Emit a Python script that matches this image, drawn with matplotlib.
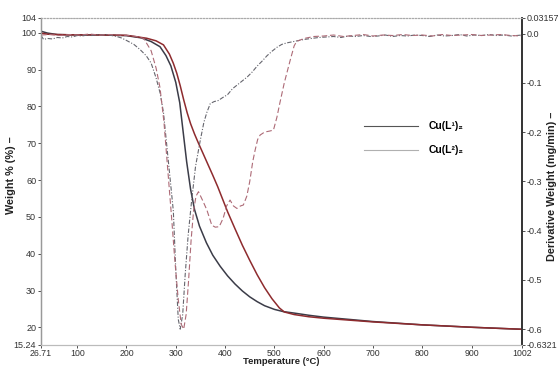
import matplotlib
matplotlib.use("Agg")
import matplotlib.pyplot as plt
from matplotlib.lines import Line2D

plt.rcParams['font.family'] = ['Liberation Sans', 'DejaVu Sans']
plt.rcParams['axes.unicode_minus'] = False

# ---------------- data ----------------
# TGA, Cu(L1)2 (dark solid)
t_l1 = [26.71, 40, 60, 100, 150, 200, 230, 250, 268, 280, 290, 300, 308, 315, 322, 330,
        338, 348, 362, 375, 390, 405, 420, 435, 450, 465, 480, 500, 518, 540, 570, 600, 650,
        700, 800, 900, 1002]
w_l1 = [100.4, 99.9, 99.5, 99.4, 99.4, 99.2, 98.6, 97.6, 96.2, 93.8, 91.0, 86.5, 81.0, 73.0, 65.0, 57.5,
        52.0, 47.5, 43.0, 39.6, 36.6, 34.0, 31.8, 29.9, 28.3, 27.0, 25.9, 24.9, 24.3, 23.9, 23.3, 22.8, 22.2,
        21.6, 20.7, 20.05, 19.5]

# TGA, Cu(L2)2 (red solid)
t_l2 = [26.71, 40, 60, 100, 150, 200, 241, 260, 275, 287, 295, 302, 309, 316, 323, 330, 338,
        346, 355, 365, 375, 385, 395, 405, 420, 435, 450, 465, 480, 495, 510, 520, 540, 570, 600,
        650, 700, 800, 900, 1002]
w_l2 = [99.9, 99.6, 99.5, 99.4, 99.4, 99.3, 98.5, 97.8, 96.7, 94.2, 91.7, 89.0, 85.6, 81.8, 78.3, 75.3, 72.5,
        70.0, 67.3, 64.3, 61.3, 58.2, 54.8, 51.4, 46.8, 42.3, 38.2, 34.3, 30.8, 27.8, 25.3, 24.2, 23.5, 22.9, 22.5,
        22.0, 21.5, 20.7, 20.05, 19.5]

# DTG, Cu(L1)2 (grey dash-dot)
t_d1 = [26.71, 32, 40, 50, 60, 70, 80, 90, 100, 110, 120, 130, 140, 150, 160, 170, 180, 190, 200,
        215, 228, 240, 250, 260, 268, 275, 285, 295, 300, 305, 309, 314, 319, 325, 332, 340, 349, 357,
        363, 370, 378, 386, 395, 405, 415, 425, 435, 445, 455, 465, 475, 485, 495, 505, 515, 525, 535,
        545, 560, 575, 590, 605, 620, 635, 650, 665, 680, 695, 710, 725, 740, 755, 770, 785, 800,
        815, 830, 845, 860, 875, 890, 905, 920, 935, 950, 965, 980, 1002]
d_d1 = [-0.004, -0.012, -0.010, -0.011, -0.008, -0.009, -0.006, -0.007, -0.004, -0.005, -0.003, -0.004,
        -0.002, -0.003, -0.002, -0.004, -0.006, -0.009, -0.014,
        -0.022, -0.033, -0.045, -0.060, -0.090, -0.120, -0.160, -0.260, -0.360, -0.480, -0.580, -0.600,
        -0.570, -0.490, -0.410, -0.340, -0.270, -0.220, -0.180,
        -0.160, -0.142, -0.138, -0.136, -0.130, -0.124, -0.112, -0.104, -0.096, -0.088, -0.078, -0.066,
        -0.056, -0.045, -0.036, -0.028, -0.022, -0.019, -0.017,
        -0.015, -0.012, -0.010, -0.008, -0.007, -0.006, -0.008, -0.005, -0.006, -0.004, -0.006, -0.005,
        -0.003, -0.006, -0.004, -0.005, -0.003, -0.004,
        -0.006, -0.003, -0.005, -0.004, -0.002, -0.005, -0.003, -0.004, -0.002, -0.004, -0.003, -0.005, -0.003]

# DTG, Cu(L2)2 (red dashed)
t_d2 = [26.71, 45, 65, 85, 105, 125, 145, 165, 185, 205, 220, 235, 250, 260, 268, 276, 284, 292,
        298, 305, 311, 316, 321, 326, 331, 336, 341, 346, 355, 363, 373, 380, 388, 396, 403, 410,
        417, 424, 431, 437, 444, 450, 456, 461, 466, 471, 480, 490, 498, 505, 511, 520, 532, 540, 545,
        560, 580, 600, 620, 640, 660, 680, 700, 720, 740, 760, 780, 800, 820, 840, 860, 880, 900,
        920, 940, 960, 980, 1002]
d_d2 = [-0.003, -0.002, -0.004, -0.002, -0.003, -0.001, -0.003, -0.002, -0.003, -0.004, -0.006, -0.010,
        -0.035, -0.070, -0.110, -0.180, -0.280, -0.380,
        -0.460, -0.540, -0.590, -0.600, -0.570, -0.500, -0.420, -0.360, -0.330, -0.321, -0.340, -0.358,
        -0.389, -0.393, -0.392, -0.375, -0.350, -0.338,
        -0.350, -0.355, -0.350, -0.348, -0.330, -0.300, -0.260, -0.236, -0.215, -0.206, -0.200, -0.198,
        -0.196, -0.170, -0.141, -0.100, -0.054, -0.025, -0.016,
        -0.010, -0.006, -0.005, -0.003, -0.006, -0.004, -0.002, -0.005, -0.003, -0.004, -0.002, -0.004,
        -0.003, -0.005, -0.002, -0.004, -0.003, -0.002,
        -0.004, -0.003, -0.002, -0.004, -0.005]

x_ticks = [26.71, 100, 200, 300, 400, 500, 600, 700, 800, 900, 1002]
x_ticklabels = ["26.71", "100", "200", "300", "400", "500", "600", "700", "800", "900", "1002"]
y_ticks = [15.24, 20, 30, 40, 50, 60, 70, 80, 90, 100, 104]
y_ticklabels = ["15.24", "20", "30", "40", "50", "60", "70", "80", "90", "100", "104"]
y2_ticks = [-0.6321, -0.6, -0.5, -0.4, -0.3, -0.2, -0.1, 0.0, 0.03157]
y2_ticklabels = ["-0.6321", "-0.6", "-0.5", "-0.4", "-0.3", "-0.2", "-0.1", "0.0", "0.03157"]

series_names = ["Cu(L\u00b9)\u2082", "Cu(L\u00b2)\u2082"]

# ---------------- figure ----------------
fig = plt.figure(figsize=(5.58, 3.67), dpi=100)
ax = fig.add_axes([0.0735, 0.06, 0.862, 0.891])
ax2 = ax.twinx()

c_dark = '#3b3c48'
c_red = '#8e2b2e'
c_grey_dtg = '#66666e'
c_red_dtg = '#ad6a76'

ax.plot(t_l1, w_l1, color=c_dark, lw=1.1, zorder=3)
ax.plot(t_l2, w_l2, color=c_red, lw=1.1, zorder=3)
ax2.plot(t_d1, d_d1, color=c_grey_dtg, lw=0.8, linestyle=(0, (4, 1.5, 1, 1.5)))
ax2.plot(t_d2, d_d2, color=c_red_dtg, lw=0.8, linestyle=(0, (5, 2.5)))

ax.set_xlim(26.71, 1002)
ax.set_ylim(15.24, 104)
ax2.set_ylim(-0.6321, 0.03157)

ax.set_xticks(x_ticks)
ax.set_xticklabels(x_ticklabels)
ax.set_yticks(y_ticks)
ax.set_yticklabels(y_ticklabels)
ax2.set_yticks(y2_ticks)
ax2.set_yticklabels(y2_ticklabels)

tick_kw = dict(labelsize=6.5, colors='#333333', length=2, width=0.6, pad=1.5)
ax.tick_params(axis='y', **tick_kw)
ax2.tick_params(axis='y', **tick_kw)
ax.tick_params(axis='x', labelsize=6.3, colors='#333333', length=2, width=0.6, pad=1)

for a in (ax, ax2):
    a.spines['top'].set_linestyle(':')
    a.spines['top'].set_color('#aaaaaa')
    a.spines['top'].set_linewidth(0.8)
    a.spines['bottom'].set_color('#bbbbbb')
    a.spines['bottom'].set_linewidth(0.8)
    a.spines['left'].set_color('#999999')
    a.spines['left'].set_linewidth(0.9)
    a.spines['right'].set_color('#333333')
    a.spines['right'].set_linewidth(1.2)

lab_kw = dict(fontsize=7.8, fontweight='bold', color='#222222')
ax.set_xlabel("Temperature (\u00b0C)", fontsize=6.8, fontweight='bold', color='#222222')
ax.xaxis.set_label_coords(0.5, -0.036)
ax.set_ylabel("Weight % (%) \u2013", **lab_kw)
ax.yaxis.set_label_coords(-0.052, 0.52)
ax2.set_ylabel("Derivative Weight (mg/min) \u2013", **lab_kw)
ax2.yaxis.set_label_coords(1.052, 0.485)

handles = [Line2D([], [], color='#555555', lw=0.8), Line2D([], [], color='#b0b0b0', lw=0.8)]
ax.legend(handles, series_names, loc='upper left', bbox_to_anchor=(0.66, 0.70),
          frameon=False, handlelength=5.2, handletextpad=1.0, labelspacing=1.35,
          prop={'size': 7.5, 'weight': 'bold'}, borderpad=0)

fig.savefig("out.png", dpi=100)
